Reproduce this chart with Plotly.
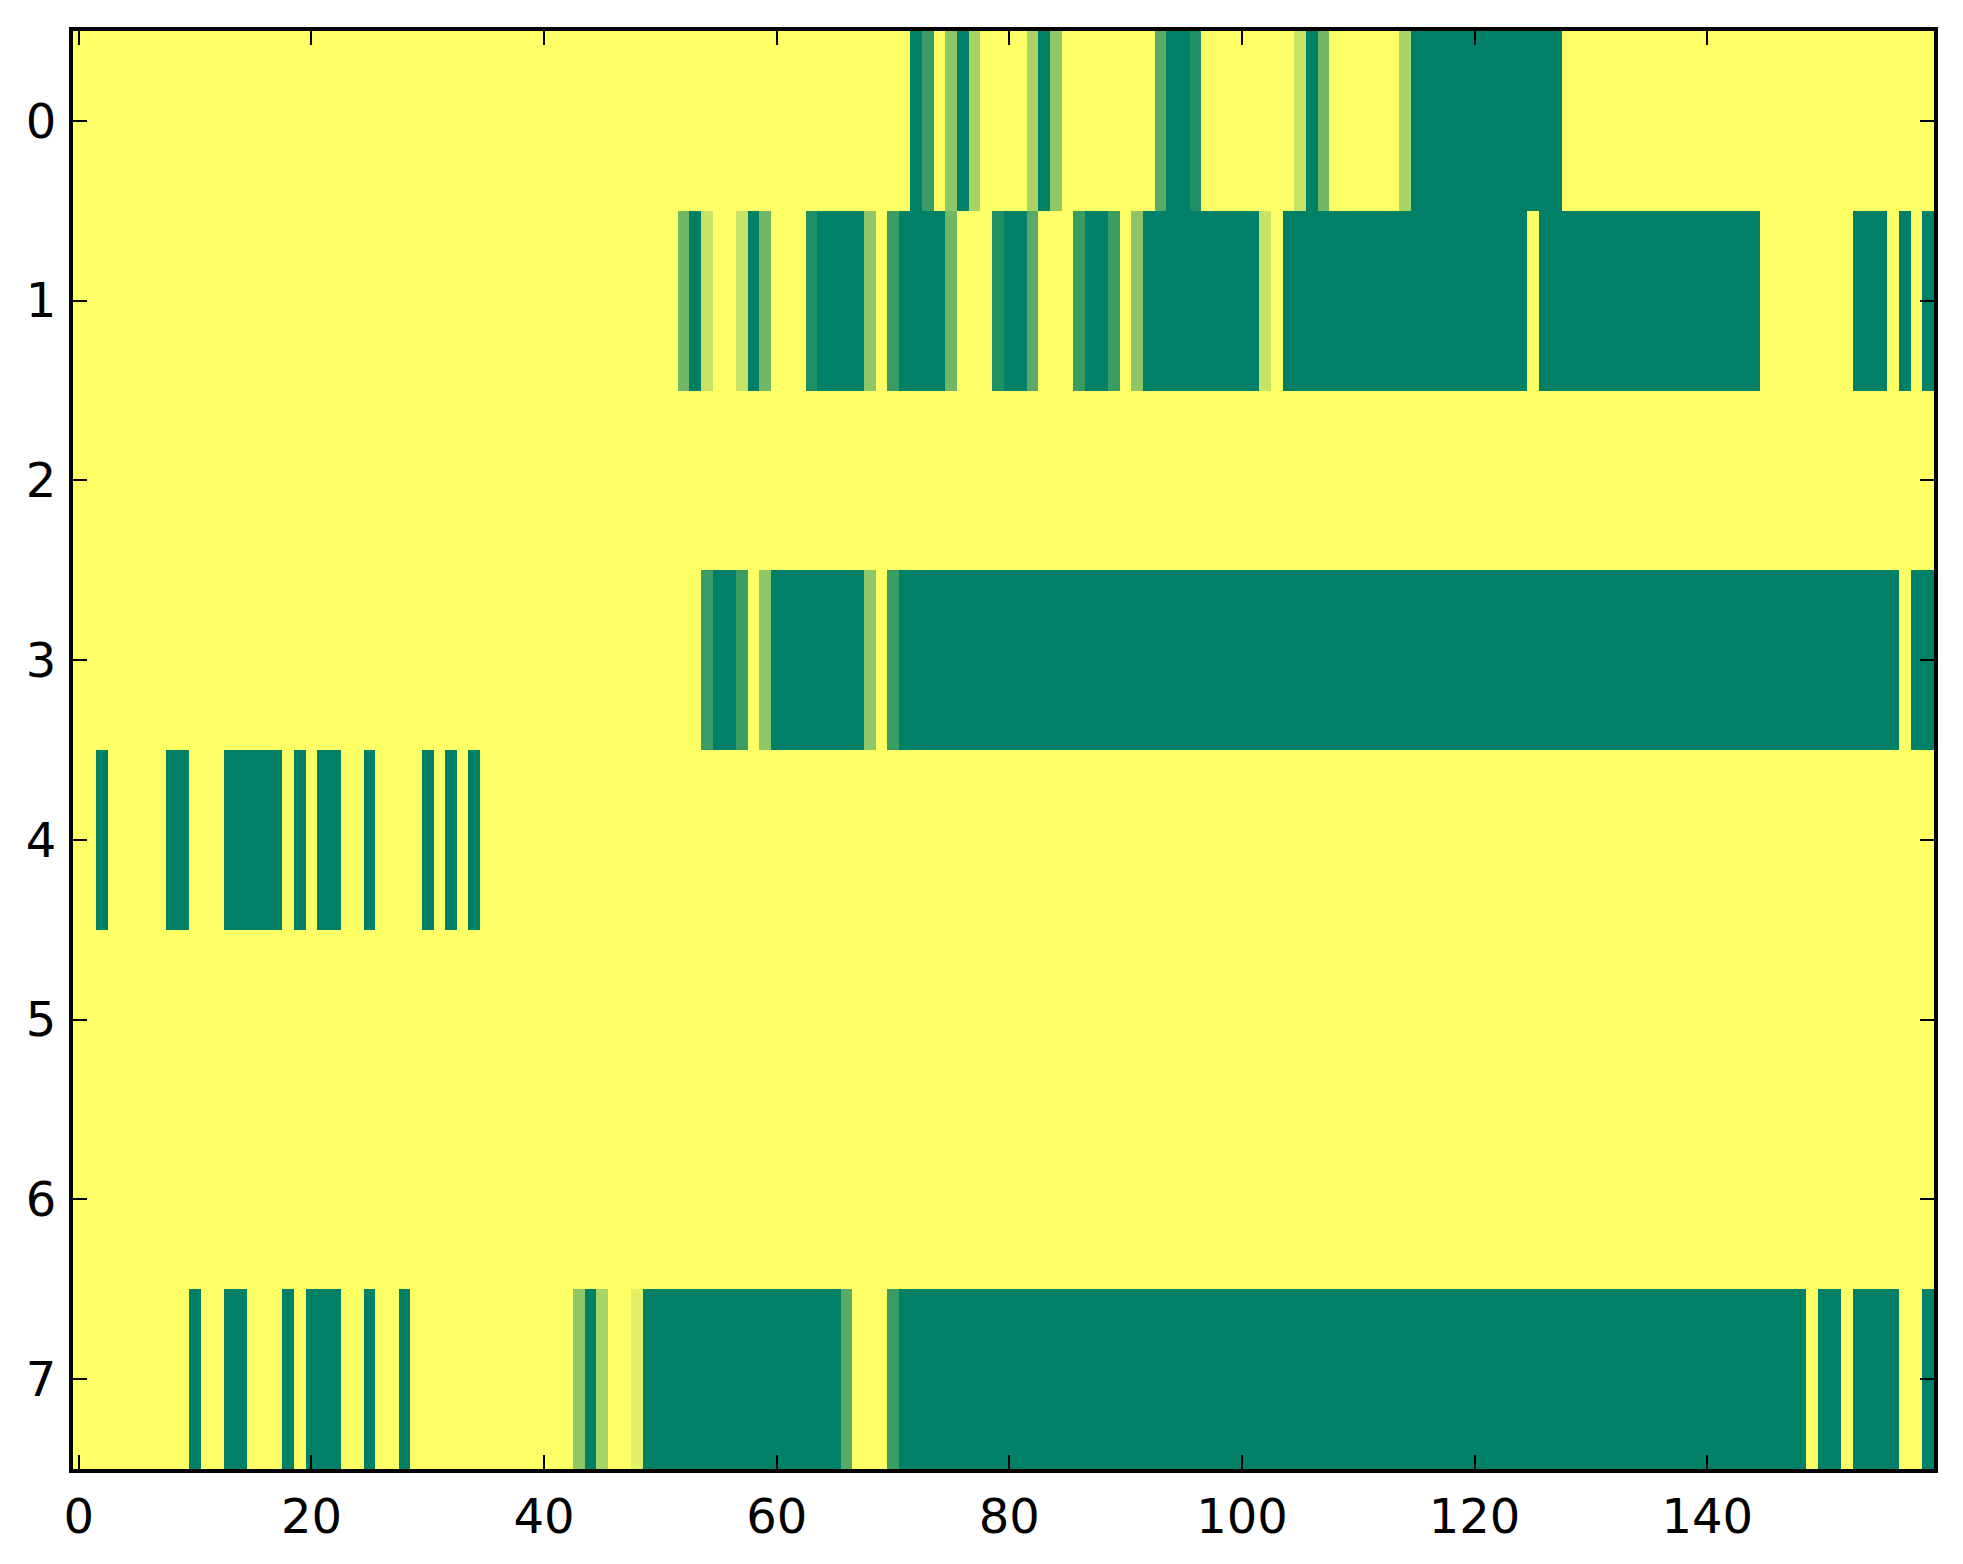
import plotly.graph_objects as go

# Column indices (0..159) and row indices (0..7)
cols = list(range(160))
rows = [0, 1, 2, 3, 4, 5, 6, 7]
x_tick_vals = [0, 20, 40, 60, 80, 100, 120, 140]
x_tick_text = ["0", "20", "40", "60", "80", "100", "120", "140"]
y_tick_vals = [0, 1, 2, 3, 4, 5, 6, 7]
y_tick_text = ["0", "1", "2", "3", "4", "5", "6", "7"]

# Cell values per row, 20 columns per line
row0 = [
    0, 0, 0, 0, 0, 0, 0, 0, 0, 0, 0, 0, 0, 0, 0, 0, 0, 0, 0, 0,
    0, 0, 0, 0, 0, 0, 0, 0, 0, 0, 0, 0, 0, 0, 0, 0, 0, 0, 0, 0,
    0, 0, 0, 0, 0, 0, 0, 0, 0, 0, 0, 0, 0, 0, 0, 0, 0, 0, 0, 0,
    0, 0, 0, 0, 0, 0, 0, 0, 0, 0, 0, 0, 1, .77, 0, .44, 1, .34, 0, 0,
    0, 0, .34, 1, .44, 0, 0, 0, 0, 0, 0, 0, 0, .66, 1, 1, .88, 0, 0, 0,
    0, 0, 0, 0, 0, .22, 1, .56, 0, 0, 0, 0, 0, 0, .34, 1, 1, 1, 1, 1,
    1, 1, 1, 1, 1, 1, 1, 1, 0, 0, 0, 0, 0, 0, 0, 0, 0, 0, 0, 0,
    0, 0, 0, 0, 0, 0, 0, 0, 0, 0, 0, 0, 0, 0, 0, 0, 0, 0, 0, 0,
]
row1 = [
    0, 0, 0, 0, 0, 0, 0, 0, 0, 0, 0, 0, 0, 0, 0, 0, 0, 0, 0, 0,
    0, 0, 0, 0, 0, 0, 0, 0, 0, 0, 0, 0, 0, 0, 0, 0, 0, 0, 0, 0,
    0, 0, 0, 0, 0, 0, 0, 0, 0, 0, 0, 0, .56, 1, .22, 0, 0, .22, 1, .56,
    0, 0, 0, .88, 1, 1, 1, 1, .44, 0, .77, 1, 1, 1, 1, .56, 0, 0, 0, .88,
    1, 1, .66, 0, 0, 0, .77, 1, 1, .77, 0, .44, 1, 1, 1, 1, 1, 1, 1, 1,
    1, 1, .22, 0, 1, 1, 1, 1, 1, 1, 1, 1, 1, 1, 1, 1, 1, 1, 1, 1,
    1, 1, 1, 1, 1, 0, 1, 1, 1, 1, 1, 1, 1, 1, 1, 1, 1, 1, 1, 1,
    1, 1, 1, 1, 1, 0, 0, 0, 0, 0, 0, 0, 0, 1, 1, 1, 0, 1, 0, 1,
]
row2 = [
    0, 0, 0, 0, 0, 0, 0, 0, 0, 0, 0, 0, 0, 0, 0, 0, 0, 0, 0, 0,
    0, 0, 0, 0, 0, 0, 0, 0, 0, 0, 0, 0, 0, 0, 0, 0, 0, 0, 0, 0,
    0, 0, 0, 0, 0, 0, 0, 0, 0, 0, 0, 0, 0, 0, 0, 0, 0, 0, 0, 0,
    0, 0, 0, 0, 0, 0, 0, 0, 0, 0, 0, 0, 0, 0, 0, 0, 0, 0, 0, 0,
    0, 0, 0, 0, 0, 0, 0, 0, 0, 0, 0, 0, 0, 0, 0, 0, 0, 0, 0, 0,
    0, 0, 0, 0, 0, 0, 0, 0, 0, 0, 0, 0, 0, 0, 0, 0, 0, 0, 0, 0,
    0, 0, 0, 0, 0, 0, 0, 0, 0, 0, 0, 0, 0, 0, 0, 0, 0, 0, 0, 0,
    0, 0, 0, 0, 0, 0, 0, 0, 0, 0, 0, 0, 0, 0, 0, 0, 0, 0, 0, 0,
]
row3 = [
    0, 0, 0, 0, 0, 0, 0, 0, 0, 0, 0, 0, 0, 0, 0, 0, 0, 0, 0, 0,
    0, 0, 0, 0, 0, 0, 0, 0, 0, 0, 0, 0, 0, 0, 0, 0, 0, 0, 0, 0,
    0, 0, 0, 0, 0, 0, 0, 0, 0, 0, 0, 0, 0, 0, .77, 1, 1, .77, 0, .44,
    1, 1, 1, 1, 1, 1, 1, 1, .44, 0, .77, 1, 1, 1, 1, 1, 1, 1, 1, 1,
    1, 1, 1, 1, 1, 1, 1, 1, 1, 1, 1, 1, 1, 1, 1, 1, 1, 1, 1, 1,
    1, 1, 1, 1, 1, 1, 1, 1, 1, 1, 1, 1, 1, 1, 1, 1, 1, 1, 1, 1,
    1, 1, 1, 1, 1, 1, 1, 1, 1, 1, 1, 1, 1, 1, 1, 1, 1, 1, 1, 1,
    1, 1, 1, 1, 1, 1, 1, 1, 1, 1, 1, 1, 1, 1, 1, 1, 1, 0, 1, 1,
]
row4 = [
    0, 0, 1, 0, 0, 0, 0, 0, 1, 1, 0, 0, 0, 1, 1, 1, 1, 1, 0, 1,
    0, 1, 1, 0, 0, 1, 0, 0, 0, 0, 1, 0, 1, 0, 1, 0, 0, 0, 0, 0,
    0, 0, 0, 0, 0, 0, 0, 0, 0, 0, 0, 0, 0, 0, 0, 0, 0, 0, 0, 0,
    0, 0, 0, 0, 0, 0, 0, 0, 0, 0, 0, 0, 0, 0, 0, 0, 0, 0, 0, 0,
    0, 0, 0, 0, 0, 0, 0, 0, 0, 0, 0, 0, 0, 0, 0, 0, 0, 0, 0, 0,
    0, 0, 0, 0, 0, 0, 0, 0, 0, 0, 0, 0, 0, 0, 0, 0, 0, 0, 0, 0,
    0, 0, 0, 0, 0, 0, 0, 0, 0, 0, 0, 0, 0, 0, 0, 0, 0, 0, 0, 0,
    0, 0, 0, 0, 0, 0, 0, 0, 0, 0, 0, 0, 0, 0, 0, 0, 0, 0, 0, 0,
]
row5 = [
    0, 0, 0, 0, 0, 0, 0, 0, 0, 0, 0, 0, 0, 0, 0, 0, 0, 0, 0, 0,
    0, 0, 0, 0, 0, 0, 0, 0, 0, 0, 0, 0, 0, 0, 0, 0, 0, 0, 0, 0,
    0, 0, 0, 0, 0, 0, 0, 0, 0, 0, 0, 0, 0, 0, 0, 0, 0, 0, 0, 0,
    0, 0, 0, 0, 0, 0, 0, 0, 0, 0, 0, 0, 0, 0, 0, 0, 0, 0, 0, 0,
    0, 0, 0, 0, 0, 0, 0, 0, 0, 0, 0, 0, 0, 0, 0, 0, 0, 0, 0, 0,
    0, 0, 0, 0, 0, 0, 0, 0, 0, 0, 0, 0, 0, 0, 0, 0, 0, 0, 0, 0,
    0, 0, 0, 0, 0, 0, 0, 0, 0, 0, 0, 0, 0, 0, 0, 0, 0, 0, 0, 0,
    0, 0, 0, 0, 0, 0, 0, 0, 0, 0, 0, 0, 0, 0, 0, 0, 0, 0, 0, 0,
]
row6 = [
    0, 0, 0, 0, 0, 0, 0, 0, 0, 0, 0, 0, 0, 0, 0, 0, 0, 0, 0, 0,
    0, 0, 0, 0, 0, 0, 0, 0, 0, 0, 0, 0, 0, 0, 0, 0, 0, 0, 0, 0,
    0, 0, 0, 0, 0, 0, 0, 0, 0, 0, 0, 0, 0, 0, 0, 0, 0, 0, 0, 0,
    0, 0, 0, 0, 0, 0, 0, 0, 0, 0, 0, 0, 0, 0, 0, 0, 0, 0, 0, 0,
    0, 0, 0, 0, 0, 0, 0, 0, 0, 0, 0, 0, 0, 0, 0, 0, 0, 0, 0, 0,
    0, 0, 0, 0, 0, 0, 0, 0, 0, 0, 0, 0, 0, 0, 0, 0, 0, 0, 0, 0,
    0, 0, 0, 0, 0, 0, 0, 0, 0, 0, 0, 0, 0, 0, 0, 0, 0, 0, 0, 0,
    0, 0, 0, 0, 0, 0, 0, 0, 0, 0, 0, 0, 0, 0, 0, 0, 0, 0, 0, 0,
]
row7 = [
    0, 0, 0, 0, 0, 0, 0, 0, 0, 0, 1, 0, 0, 1, 1, 0, 0, 0, 1, 0,
    1, 1, 1, 0, 0, 1, 0, 0, 1, 0, 0, 0, 0, 0, 0, 0, 0, 0, 0, 0,
    0, 0, 0, .44, 1, .34, 0, 0, .11, 1, 1, 1, 1, 1, 1, 1, 1, 1, 1, 1,
    1, 1, 1, 1, 1, 1, .66, 0, 0, 0, .77, 1, 1, 1, 1, 1, 1, 1, 1, 1,
    1, 1, 1, 1, 1, 1, 1, 1, 1, 1, 1, 1, 1, 1, 1, 1, 1, 1, 1, 1,
    1, 1, 1, 1, 1, 1, 1, 1, 1, 1, 1, 1, 1, 1, 1, 1, 1, 1, 1, 1,
    1, 1, 1, 1, 1, 1, 1, 1, 1, 1, 1, 1, 1, 1, 1, 1, 1, 1, 1, 1,
    1, 1, 1, 1, 1, 1, 1, 1, 1, 0, 1, 1, 0, 1, 1, 1, 1, 0, 0, 1,
]

z = [row0, row1, row2, row3, row4, row5, row6, row7]

# matplotlib "summer_r": linear from yellow (0) to green (1)
summer_r = [[0.0, "#ffff66"], [1.0, "#008066"]]

fig = go.Figure(
    go.Heatmap(
        z=z,
        x=cols,
        y=rows,
        colorscale=summer_r,
        zmin=0,
        zmax=1,
        showscale=False,
        xgap=0,
        ygap=0,
    )
)

font = dict(family="DejaVu Sans", size=48, color="black")
axis_common = dict(
    showline=True,
    linewidth=4,
    linecolor="black",
    mirror="ticks",
    ticks="inside",
    ticklen=14,
    tickwidth=2,
    tickcolor="black",
    showgrid=False,
    zeroline=False,
    tickfont=font,
)

fig.update_layout(
    width=1947,
    height=1548,
    margin=dict(l=65, r=21, t=23, b=85),
    paper_bgcolor="white",
    plot_bgcolor="white",
    xaxis=dict(
        range=[-0.5, 159.5],
        tickmode="array",
        tickvals=x_tick_vals,
        ticktext=x_tick_text,
        ticklabelstandoff=2,
        **axis_common,
    ),
    yaxis=dict(
        range=[7.5, -0.5],
        tickmode="array",
        tickvals=y_tick_vals,
        ticktext=y_tick_text,
        ticklabelstandoff=3,
        **axis_common,
    ),
)

fig.write_html("out.html")
